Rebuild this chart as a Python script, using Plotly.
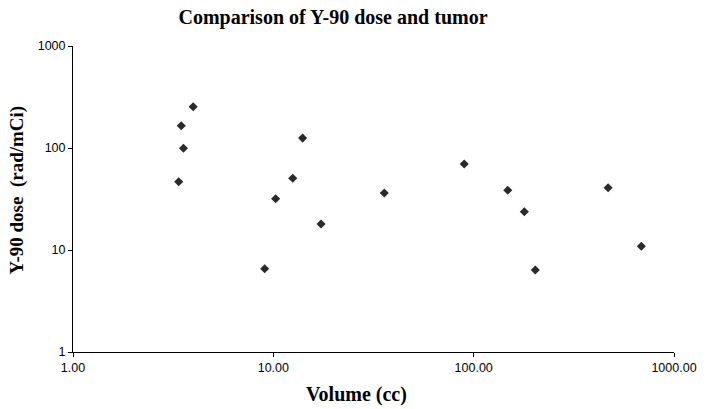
import plotly.graph_objects as go

volume_cc = [3.37, 3.47, 3.56, 3.98, 9.05, 10.27, 12.5, 14.0, 17.3, 35.8, 89.7, 148, 179, 203, 469, 687]
dose_rad_per_mci = [46.7, 165, 99.3, 254, 6.56, 31.8, 50.5, 125, 18.0, 36.2, 69.7, 38.5, 23.7, 6.37, 40.8, 10.9]

x_tickvals = [1, 10, 100, 1000]
x_ticktext = ["1.00", "10.00", "100.00", "1000.00"]
y_tickvals = [1, 10, 100, 1000]
y_ticktext = ["1", "10", "100", "1000"]

W, H = 707, 409

fig = go.Figure(go.Scatter(
    x=volume_cc, y=dose_rad_per_mci, mode="markers",
    marker=dict(symbol="diamond", size=7, color="#2a2a2a"),
    showlegend=False, hoverinfo="skip",
))

serif = "Liberation Serif, Times New Roman, serif"
sans = "Liberation Sans, Arial, sans-serif"

left, right, top, bottom = 72.5, 674, 46, 352

fig.update_layout(
    width=W, height=H,
    paper_bgcolor="white", plot_bgcolor="white",
    margin=dict(l=left, r=W - right, t=top, b=H - bottom, autoexpand=False),
    title=dict(text="<b>Comparison of Y-90 dose and tumor</b>",
               x=333 / W, xref="container", xanchor="center",
               y=1 - 17 / H, yref="container", yanchor="middle",
               font=dict(family=serif, size=20, color="black")),
    xaxis=dict(type="log", range=[0, 3], tickvals=x_tickvals, ticktext=x_ticktext,
               showline=True, linecolor="black", linewidth=1, mirror=False,
               ticks="outside", ticklen=4, tickcolor="black", showgrid=False, zeroline=False,
               tickfont=dict(family=sans, size=12.5, color="black")),
    yaxis=dict(type="log", range=[0, 3], tickvals=y_tickvals, ticktext=y_ticktext,
               showline=True, linecolor="black", linewidth=1, mirror=False,
               ticks="outside", ticklen=4, tickcolor="black", showgrid=False, zeroline=False,
               tickfont=dict(family=sans, size=12.5, color="black")),
    annotations=[
        dict(text="<b>Volume (cc)</b>", xref="paper", yref="paper",
             x=(356 - left) / (right - left), y=-(394 - bottom) / (bottom - top),
             xanchor="center", yanchor="middle", showarrow=False,
             font=dict(family=serif, size=20, color="black")),
        dict(text="<b>Y-90 dose  (rad/mCi)</b>", xref="paper", yref="paper",
             x=-(left - 16) / (right - left), y=(bottom - 190) / (bottom - top),
             xanchor="center", yanchor="middle", textangle=-90, showarrow=False,
             font=dict(family=serif, size=19, color="black")),
    ],
)

fig.write_html("out.html", config={"displayModeBar": False},
               post_script="document.body.style.margin='0';")
